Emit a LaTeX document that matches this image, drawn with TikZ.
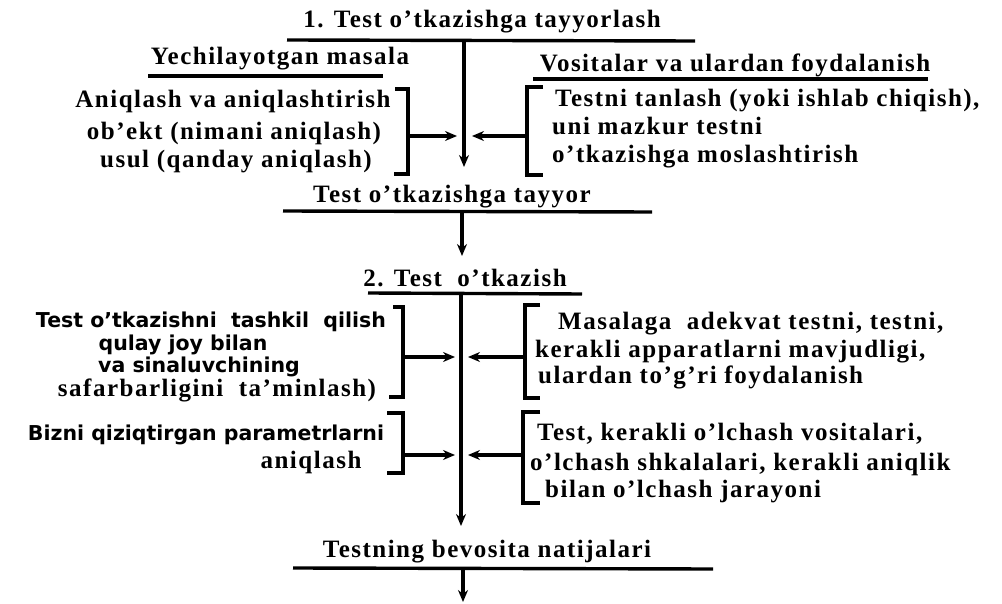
\documentclass[tikz,border=0pt]{standalone}
\usepackage{fontspec}
\setmainfont{Liberation Serif}[LetterSpace=6]
\newfontfamily\sansb{DejaVu Sans}
\usetikzlibrary{arrows.meta}
\tikzset{
  ser/.style={font=\bfseries\fontsize{25}{29}\selectfont, inner sep=0pt, anchor=base},
  serw/.style={ser, anchor=base west},
  sans/.style={font=\sansb\bfseries\fontsize{20.5}{23}\selectfont, inner sep=0pt, anchor=base},
  ln/.style={line width=3.4pt},
  brk/.style={line width=3.2pt, line join=miter},
  arr/.style={line width=3.2pt, -{Stealth[length=12pt,width=10pt]}},
}
\begin{document}
\begin{tikzpicture}[x=1pt,y=-1pt]
\useasboundingbox[fill=white] (0,0) rectangle (1002,604);

% ---------- section 1 ----------
\node[ser] (t1) at (482,28) {1. Test o’tkazishga tayyorlash};
\coordinate (u1a) at (287,40); \coordinate (u1b) at (695,41);
\draw[ln] (u1a) -- (u1b);

\node[ser] (ym) at (280,65) {Yechilayotgan masala};
\coordinate (uya) at (148,76); \coordinate (uyb) at (383,76);
\draw[ln] (uya) -- (uyb);

\node[ser] (vf) at (735,72) {Vositalar va ulardan foydalanish};
\coordinate (uva) at (533,79); \coordinate (uvb) at (928,79);
\draw[ln] (uva) -- (uvb);

\node[ser] (la1) at (233,108) {Aniqlash va aniqlashtirish};
\node[ser] (la2) at (234,140) {ob’ekt (nimani aniqlash)};
\node[ser] (la3) at (236,168) {usul (qanday aniqlash)};

\node[serw] (ra1) at (555,107) {Testni tanlash (yoki ishlab chiqish),};
\node[serw] (ra2) at (552,135) {uni mazkur testni};
\node[serw] (ra3) at (552,163) {o’tkazishga moslashtirish};

% brackets
\coordinate (bl1t) at (395,89); \coordinate (bl1b) at (394,174);
\coordinate (bl1x) at (408,136);
\draw[brk] (bl1t) -- (bl1t -| bl1x) -- (bl1b -| bl1x) -- (bl1b);
\coordinate (br1t) at (543,87); \coordinate (br1b) at (543,175);
\coordinate (br1x) at (527,136);
\draw[brk] (br1t) -- (br1t -| br1x) -- (br1b -| br1x) -- (br1b);

% main line 1
\coordinate (m1top) at (464,40);
\coordinate (m1bot) at (464,167);
\draw[arr] (m1top) -- (m1bot);
\draw[arr] (bl1x) -- (457,136);
\draw[arr] (br1x) -- (472,136);

\node[ser] (tt) at (452,203) {Test o’tkazishga tayyor};
\coordinate (uta) at (283,211); \coordinate (utb) at (652,212);
\draw[ln] (uta) -- (utb);
\coordinate (a2s) at (462,212); \coordinate (a2e) at (462,256);
\draw[arr] (a2s) -- (a2e);

% ---------- section 2 ----------
\node[ser] (t2) at (465,287) {2. Test\ \ o’tkazish};
\coordinate (u2a) at (368,293); \coordinate (u2b) at (582,294);
\draw[ln] (u2a) -- (u2b);

\node[sans] (lb1) at (211,327) {Test o’tkazishni\ \ tashkil\ \ qilish};
\node[sans] (lb2) at (183,350) {qulay joy bilan};
\node[sans] (lb3) at (199,372) {va sinaluvchining};
\node[ser]  (lb4) at (217,396) {safarbarligini\ \ ta’minlash)};

\node[serw] (rb1) at (558,330) {Masalaga\ \ adekvat testni, testni,};
\node[serw] (rb2) at (535,357) {kerakli apparatlarni mavjudligi,};
\node[serw] (rb3) at (538,383) {ulardan to’g’ri foydalanish};

\coordinate (bl2t) at (393,307); \coordinate (bl2b) at (389,397);
\coordinate (bl2x) at (403,357);
\draw[brk] (bl2t) -- (bl2t -| bl2x) -- (bl2b -| bl2x) -- (bl2b);
\coordinate (br2t) at (540,305); \coordinate (br2b) at (540,398);
\coordinate (br2x) at (525,357);
\draw[brk] (br2t) -- (br2t -| br2x) -- (br2b -| br2x) -- (br2b);

\node[sans] (lc1) at (206,440) {Bizni qiziqtirgan parametrlarni};
\node[ser]  (lc2) at (311,468) {aniqlash};

\node[serw] (rc1) at (537,440) {Test, kerakli o’lchash vositalari,};
\node[serw] (rc2) at (530,470) {o’lchash shkalalari, kerakli aniqlik};
\node[serw] (rc3) at (545,497) {bilan o’lchash jarayoni};

\coordinate (bl3t) at (387,413); \coordinate (bl3b) at (387,473);
\coordinate (bl3x) at (403,455);
\draw[brk] (bl3t) -- (bl3t -| bl3x) -- (bl3b -| bl3x) -- (bl3b);
\coordinate (br3t) at (540,412); \coordinate (br3b) at (540,503);
\coordinate (br3x) at (523,455);
\draw[brk] (br3t) -- (br3t -| br3x) -- (br3b -| br3x) -- (br3b);

% main line 2
\coordinate (m2top) at (461,293);
\coordinate (m2bot) at (461,526);
\draw[arr] (m2top) -- (m2bot);
\draw[arr] (bl2x) -- (455,357);
\draw[arr] (br2x) -- (468,357);
\draw[arr] (bl3x) -- (455,455);
\draw[arr] (br3x) -- (468,455);

% ---------- result ----------
\node[ser] (tr) at (487,557) {Testning bevosita natijalari};
\coordinate (ura) at (293,568); \coordinate (urb) at (713,569);
\draw[ln] (ura) -- (urb);
\coordinate (a3s) at (463,569); \coordinate (a3e) at (463,602);
\draw[arr] (a3s) -- (a3e);
\end{tikzpicture}
\end{document}
